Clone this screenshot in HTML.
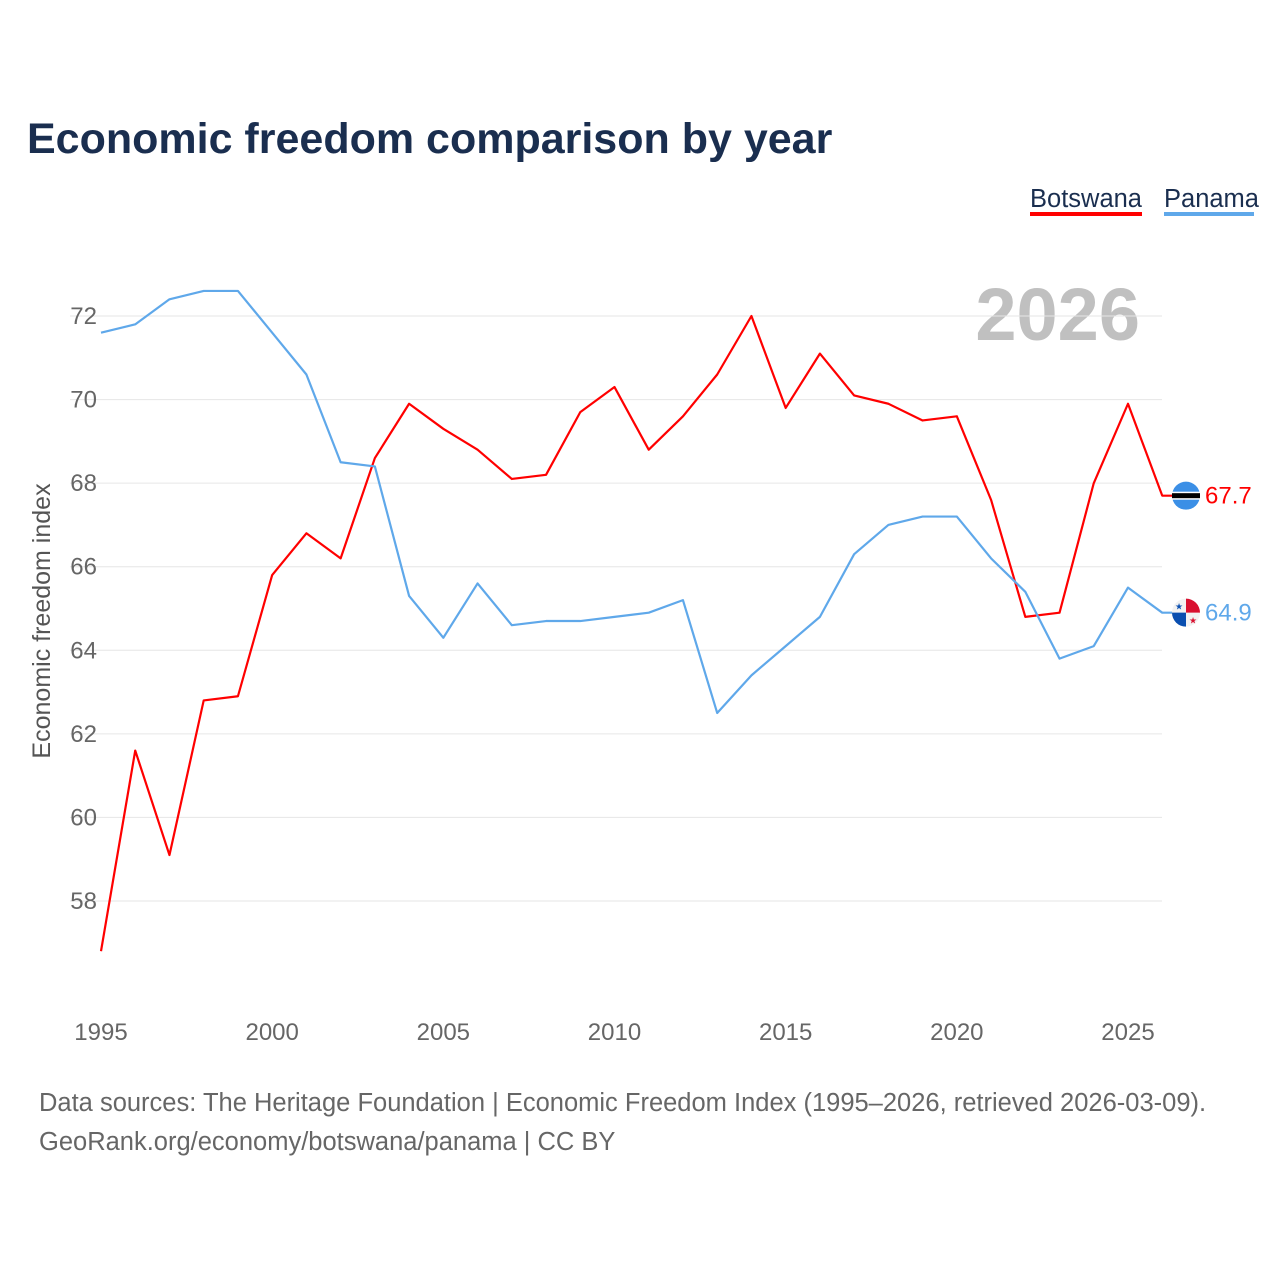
<!DOCTYPE html>
<html><head><meta charset="utf-8"><style>
body{margin:0;background:#fff;font-family:"Liberation Sans",sans-serif;}
</style></head><body>
<svg width="1280" height="1280" xmlns="http://www.w3.org/2000/svg" id="chart">
<text x="27" y="153" font-size="43" font-weight="bold" fill="#1a2e4f" font-family="Liberation Sans">Economic freedom comparison by year</text>
<g>
<text x="1030" y="207" font-size="25.5" fill="#1a2e4f">Botswana</text>
<rect x="1030" y="212" width="112" height="4" fill="#ff0000"/>
<text x="1164" y="207" font-size="25.5" fill="#1a2e4f">Panama</text>
<rect x="1164" y="212" width="90" height="4" fill="#5fa8ea"/>
</g>
<text x="1140" y="340" font-size="74" font-weight="bold" fill="#c0c0c0" text-anchor="end">2026</text>
<text transform="translate(50,621) rotate(-90)" font-size="25" fill="#555" text-anchor="middle">Economic freedom index</text>
<g id="grid"></g><g id="lines"></g>
<g>
<text x="39" y="1111" font-size="25.5" fill="#666">Data sources: The Heritage Foundation | Economic Freedom Index (1995–2026, retrieved 2026-03-09).</text>
<text x="39" y="1150" font-size="25.5" fill="#666">GeoRank.org/economy/botswana/panama | CC BY</text>
</g>
</svg>
<script>
const years=[1995,1996,1997,1998,1999,2000,2001,2002,2003,2004,2005,2006,2007,2008,2009,2010,2011,2012,2013,2014,2015,2016,2017,2018,2019,2020,2021,2022,2023,2024,2025,2026];
const botswana=[56.8,61.6,59.1,62.8,62.9,65.8,66.8,66.2,68.6,69.9,69.3,68.8,68.1,68.2,69.7,70.3,68.8,69.6,70.6,72.0,69.8,71.1,70.1,69.9,69.5,69.6,67.6,64.8,64.9,68.0,69.9,67.7];
const panama=[71.6,71.8,72.4,72.6,72.6,71.6,70.6,68.5,68.4,65.3,64.3,65.6,64.6,64.7,64.7,64.8,64.9,65.2,62.5,63.4,64.1,64.8,66.3,67.0,67.2,67.2,66.2,65.4,63.8,64.1,65.5,64.9];
const yTicks=[58,60,62,64,66,68,70,72];
const xTicks=[1995,2000,2005,2010,2015,2020,2025];
const NS="http://www.w3.org/2000/svg";
const xS=v=>101+(v-1995)*(1128-101)/30;
const yS=v=>316+(72-v)*(901-316)/14;
function mk(t,a,p){const e=document.createElementNS(NS,t);for(const k in a)e.setAttribute(k,a[k]);p.appendChild(e);return e;}
const grid=document.getElementById('grid');
yTicks.forEach(v=>{
 const l=mk('line',{x1:70,x2:1162,y1:yS(v),y2:yS(v),stroke:'#e6e6e6','stroke-width':1},grid);
 
 
 const t=mk('text',{x:97,y:yS(v)+8,'font-size':24,fill:'#666','text-anchor':'end'},grid);
 t.textContent=v;
 
 
});
xTicks.forEach(v=>{
 const t=mk('text',{x:xS(v),y:1040,'font-size':24,fill:'#666','text-anchor':'middle'},grid);
 t.textContent=v;
 
 
});
const lines=document.getElementById('lines');
function series(vals,color,name){
 const p=mk('polyline',{points:vals.map((v,i)=>xS(years[i])+','+yS(v)).join(' ')+' '+(xS(2026)+10)+','+yS(vals[vals.length-1]),fill:'none',stroke:color,'stroke-width':2.2,'stroke-linejoin':'round'},lines);
 
 
 const last=vals[vals.length-1],yy=yS(last);
 const lbl=mk('text',{x:1205,y:yy+8,'font-size':24,fill:color},lines);
 lbl.textContent=last.toFixed(1);
 
 
 return yy;
}
const by=series(botswana,'#ff0000','botswana');
const py=series(panama,'#5fa8ea','panama');
let g=mk('g',{},lines);


mk('circle',{cx:1186,cy:by,r:14,fill:'#3b8fe6'},g);
mk('rect',{x:1172,y:by-4,width:28,height:8,fill:'#fff'},g);
mk('rect',{x:1172,y:by-2.5,width:28,height:5,fill:'#000'},g);
g=mk('g',{},lines);


mk('circle',{cx:1186,cy:py,r:14,fill:'#f2f2f2'},g);
mk('path',{d:`M1186 ${py} L1186 ${py-14} A14 14 0 0 1 1200 ${py} Z`,fill:'#d9102f'},g);
mk('path',{d:`M1186 ${py} L1172 ${py} A14 14 0 0 0 1186 ${py+14} Z`,fill:'#0a4fb0'},g);
mk('text',{x:1179,y:py-3,'font-size':9,fill:'#0a4fb0','text-anchor':'middle'},g).textContent='★';
mk('text',{x:1193,y:py+11,'font-size':9,fill:'#d9102f','text-anchor':'middle'},g).textContent='★';
</script>
</body></html>
